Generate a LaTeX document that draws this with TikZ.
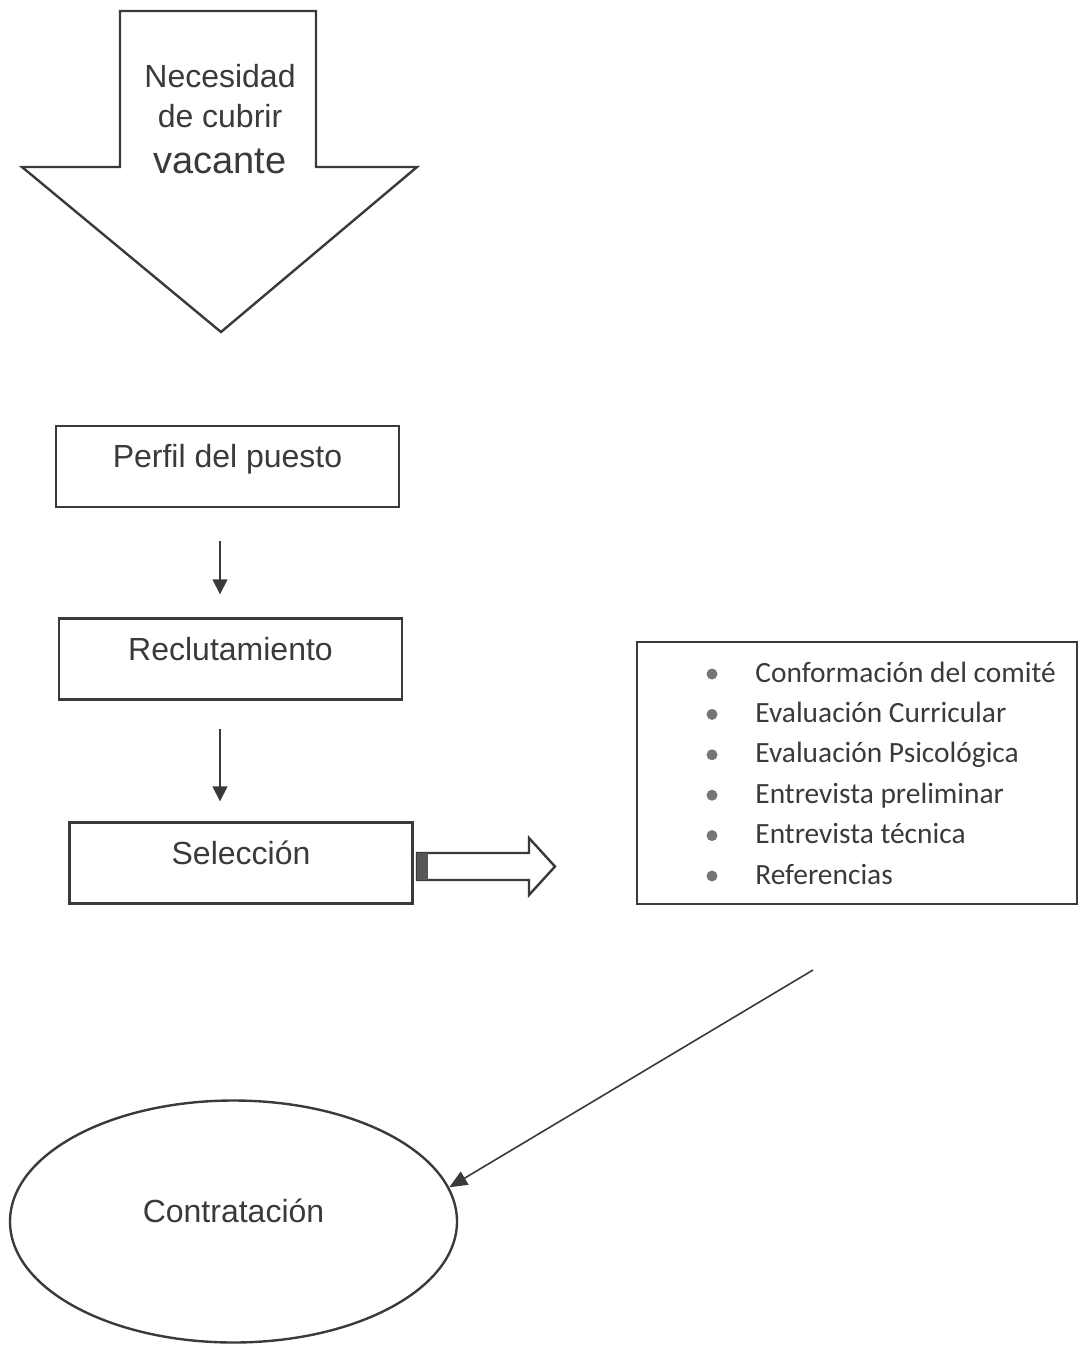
\documentclass[tikz,border=0pt]{standalone}
\usepackage{fontspec}
\setmainfont{Liberation Sans}
\newfontfamily\listfont{Carlito}
\usetikzlibrary{arrows.meta,shapes.geometric}
\definecolor{ink}{HTML}{3A3A3A}

\begin{document}
\begin{tikzpicture}[x=0.5pt,y=-0.5pt]
\tikzstyle{box}=[draw=ink,line width=1.2pt,text=ink,font=\fontsize{16}{20}\selectfont,minimum width=171.5pt,minimum height=40.5pt,inner sep=0pt,text height=12pt,text depth=11pt]
\tikzstyle{flow}=[draw=ink,line width=0.8pt,-{Triangle[length=7.5pt,width=7.5pt]}]
\tikzstyle{dot}=[circle,fill=ink!70,inner sep=0pt,minimum size=5.5pt]
\tikzstyle{item}=[anchor=base west,inner sep=0pt,text=ink,font=\listfont\fontsize{14.7}{17}\selectfont]
\useasboundingbox (0,0) rectangle (1080,1345);

% block arrow at the top
\draw[ink,line width=1.2pt] (120,11) -- (316,11) -- (316,167) -- (417,167) -- (221,332) -- (22,167) -- (120,167) -- cycle;
\node[text=ink,align=center,font=\fontsize{16}{20}\selectfont] at (220,119.5) (need) {Necesidad\\de cubrir\\[3pt]{\fontsize{19}{22}\selectfont vacante}};

\node[box] at (227.5,466.5) (perfil) {Perfil del puesto};
\node[box] at (230.5,659) (recl) {Reclutamiento};
\node[box] at (241,863) (sel) {Selección};
\draw[flow,shorten <=16.5pt,shorten >=11.5pt] (perfil.south -| need) -- (recl.north -| need);
\draw[flow,shorten <=14pt,shorten >=10pt] (recl.south -| need) -- (sel.north -| need);

% hollow arrow to the list
\draw[ink,line width=1.2pt,fill=white] (417,853) -- (529,853) -- (529,838) -- (555,866.5) -- (529,895) -- (529,880) -- (417,880) -- cycle;
\fill[ink!85] (417,853) rectangle (428,880);

\node[draw=ink,line width=1pt,minimum width=220pt,minimum height=131pt,inner sep=0pt] at (857,772.5) (lst) {};
\foreach \t [count=\i, evaluate=\i as \y using 633.6+40.4*\i] in {Conformación del comité,Evaluación Curricular,Evaluación Psicológica,Entrevista preliminar,Entrevista técnica,Referencias} {
  \node[dot] at (712,\y) (b\i) {};
  \node[item] at (755,\y+8) (it\i) {\t};
}

\node[ellipse,draw=ink,line width=1.2pt,minimum width=223.5pt,minimum height=121pt,inner sep=0pt,text=ink,font=\fontsize{16}{20}\selectfont,text height=12pt,text depth=11pt] at (233.5,1221.5) (contr) {Contratación};
\coordinate (lstout) at (813,970);
\draw[flow,-{Triangle[length=9pt,width=7.5pt]}] (lstout) -- (contr.9);
\end{tikzpicture}
\end{document}
